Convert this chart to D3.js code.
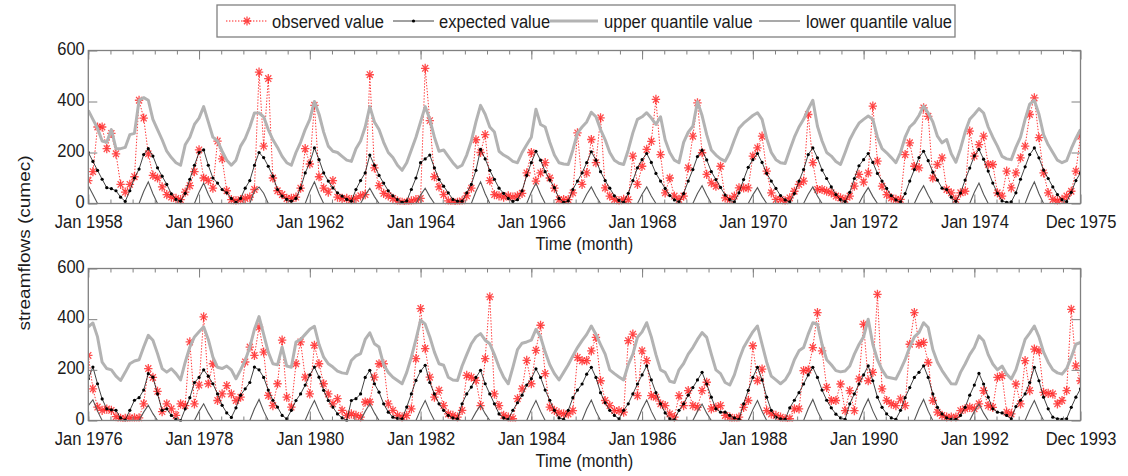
<!DOCTYPE html>
<html>
<head>
<meta charset="utf-8">
<script src="https://cdn.jsdelivr.net/npm/d3@7"></script>
<style>
  body { margin: 0; background: #fff; }
  svg { display: block; }
  text { font-family: "Liberation Sans", Arial, Helvetica, sans-serif; fill: #1a1a1a; }
</style>
</head>
<body>
<svg id="chart" width="1128" height="476"></svg>
<script>
// ---- Monthly streamflow series (cumec), Jan 1958 - Dec 1975 ----
const topTickMonths = [0, 24, 48, 72, 96, 120, 144, 168, 192, 215];
const topTickLabels = ["Jan 1958", "Jan 1960", "Jan 1962", "Jan 1964", "Jan 1966",
                       "Jan 1968", "Jan 1970", "Jan 1972", "Jan 1974", "Dec 1975"];

const topObserved = [
  90,125,300,300,215,275,195,75,45,75,105,405,
  335,195,110,100,65,35,25,20,15,45,70,125,
  210,100,90,60,245,175,50,15,10,15,20,25,
  55,515,225,490,100,50,35,20,20,25,60,215,
  155,385,105,60,45,90,25,20,20,15,20,30,
  35,505,140,70,40,30,20,10,5,5,10,15,
  20,530,325,105,65,35,10,5,5,10,30,60,
  250,200,270,90,35,30,25,30,25,30,40,120,
  200,88,120,160,100,60,15,15,15,42,277,75,
  120,251,160,336,61,29,16,10,16,15,186,75,
  146,212,244,408,192,42,100,29,16,29,140,264,
  395,199,114,81,68,146,22,16,29,61,61,61,
  186,218,264,127,42,16,16,10,22,48,75,88,
  349,160,55,55,48,42,29,22,16,29,68,114,
  84,120,382,166,68,35,22,16,16,192,238,146,
  140,375,342,100,153,179,55,42,16,42,48,284,
  186,231,264,153,153,42,29,127,61,120,179,225,
  349,414,258,120,42,16,10,16,29,48,127,264
];

const topExpected = [
  200,165,130,95,62,58,50,25,8,50,100,135,
  192,215,186,140,107,75,38,16,9,40,95,150,
  200,210,150,100,80,55,42,20,5,20,60,90,
  150,200,180,146,107,55,29,16,9,20,60,120,
  160,218,172,120,88,61,42,29,16,9,55,90,
  120,190,150,110,80,50,30,15,5,10,55,100,
  160,175,190,140,94,68,42,16,9,9,42,75,
  130,212,175,130,95,60,40,20,8,15,50,110,
  160,205,170,125,92,62,20,5,10,55,88,120,
  160,203,170,125,90,60,30,12,5,40,90,140,
  172,196,161,118,88,59,31,14,6,39,88,133,
  184,209,171,125,94,63,33,15,6,42,94,142,
  172,196,161,118,88,59,31,14,6,39,88,133,
  192,218,179,131,98,65,35,15,7,44,98,148,
  172,196,161,118,88,59,31,14,6,39,88,133,
  180,205,168,123,92,60,55,25,8,41,92,139,
  187,212,174,127,80,40,10,5,6,42,95,144,
  192,218,179,131,98,65,35,15,7,44,90,120
];

const topUpper = [
  365,330,295,245,240,290,215,215,220,270,275,405,
  415,405,330,290,250,205,180,160,150,230,260,310,
  335,380,320,260,245,205,170,150,170,225,255,300,
  355,355,340,290,250,220,185,160,150,200,240,290,
  330,400,350,280,225,205,200,185,170,165,215,245,
  300,380,320,290,240,200,180,150,130,160,210,260,
  320,380,330,260,205,210,185,160,140,150,190,245,
  320,385,350,300,280,205,190,180,165,160,200,230,
  260,370,310,300,240,190,160,155,153,210,277,300,
  320,358,340,290,250,200,170,158,153,210,277,330,
  340,356,335,310,340,250,200,170,160,240,280,303,
  399,345,270,210,190,175,166,200,250,295,315,330,
  345,356,330,255,200,172,160,157,210,260,300,330,
  370,405,303,245,200,186,165,153,200,250,285,315,
  330,343,330,260,215,199,180,160,200,260,300,317,
  345,382,355,320,264,238,251,195,162,215,280,330,
  350,372,355,300,260,225,185,175,172,220,260,330,
  390,405,350,270,230,200,170,160,168,215,255,290
];

const topLower = [
  70,35,0,0,0,0,0,0,0,0,0,0,
  47,85,38,0,0,0,0,0,0,0,0,0,
  44,80,36,0,0,0,0,0,0,0,0,0,
  50,65,40,0,0,0,0,0,0,0,0,0,
  47,85,38,0,0,0,0,0,0,0,0,0,
  33,60,27,0,0,0,0,0,0,0,0,0,
  33,60,27,0,0,0,0,0,0,0,0,0,
  47,85,38,0,0,0,0,0,0,0,0,0,
  44,80,36,0,0,0,0,0,0,0,0,0,
  36,65,29,0,0,0,0,0,0,0,0,0,
  36,65,29,0,0,0,0,0,0,0,0,0,
  39,70,32,0,0,0,0,0,0,0,0,0,
  34,62,28,0,0,0,0,0,0,0,0,0,
  36,65,29,0,0,0,0,0,0,0,0,0,
  34,62,28,0,0,0,0,0,0,0,0,0,
  39,70,32,0,0,0,0,0,0,0,0,0,
  44,80,36,0,0,0,0,0,0,0,0,0,
  47,85,38,0,0,0,0,0,0,0,0,0
];

// ---- Monthly streamflow series (cumec), Jan 1976 - Dec 1993 ----
const bottomTickMonths = [0, 24, 48, 72, 96, 120, 144, 168, 192, 215];
const bottomTickLabels = ["Jan 1976", "Jan 1978", "Jan 1980", "Jan 1982", "Jan 1984",
                          "Jan 1986", "Jan 1988", "Jan 1990", "Jan 1992", "Dec 1993"];

const bottomObserved = [
  257,125,53,40,45,40,15,8,8,10,10,10,
  66,205,170,115,35,66,46,20,66,59,310,66,
  140,409,145,224,79,105,138,105,79,92,231,290,
  257,369,270,99,59,145,317,92,53,224,310,171,
  105,297,224,145,105,66,86,40,20,26,20,13,
  73,73,171,224,224,66,40,20,13,20,46,244,
  442,284,171,92,119,59,26,20,13,40,178,171,
  158,59,244,488,105,59,20,13,7,86,125,237,
  145,277,376,185,53,40,30,26,26,39,249,236,
  236,275,328,157,79,59,39,39,33,315,341,98,
  275,236,98,92,66,59,26,13,98,59,118,59,
  52,118,151,46,52,59,20,13,7,13,52,79,
  295,157,203,39,26,20,13,7,7,46,46,197,
  199,288,426,275,131,79,79,144,39,118,39,164,
  380,157,190,498,125,79,66,59,85,59,301,426,
  301,308,229,79,33,20,13,13,13,39,46,52,
  46,66,118,59,52,170,177,33,26,144,66,236,
  118,282,275,111,107,105,66,79,118,439,216,157
];

const bottomExpected = [
  165,211,145,85,46,42,40,10,2,40,80,90,
  120,185,171,105,40,46,20,5,0,46,90,150,
  170,200,175,145,105,60,30,12,50,100,125,150,
  211,200,170,120,80,53,20,7,40,79,105,140,
  180,211,171,119,79,53,26,10,0,79,86,105,
  170,198,145,112,66,33,13,8,7,53,105,158,
  195,218,150,105,66,40,20,10,7,66,105,132,
  170,198,145,105,66,26,10,5,40,70,100,140,
  165,204,170,120,80,40,10,5,40,90,120,144,
  183,210,170,110,70,40,20,7,40,66,105,144,
  180,216,160,110,66,30,7,3,40,66,100,130,
  160,190,144,92,46,33,33,20,10,5,66,119,
  170,210,160,92,40,13,7,5,50,80,110,144,
  180,210,170,120,80,50,25,10,5,66,105,144,
  180,216,157,92,52,26,10,5,40,90,130,170,
  190,216,170,105,52,26,10,5,5,20,52,100,
  140,186,144,92,46,33,30,20,7,55,80,105,
  150,210,157,92,46,13,7,5,7,52,92,125
];

const bottomUpper = [
  370,385,330,230,205,200,175,158,190,224,235,240,
  290,336,317,264,205,191,204,185,160,230,290,330,
  350,370,320,250,210,205,215,200,165,200,237,290,
  360,410,340,270,224,220,290,215,210,310,320,340,
  360,372,300,250,224,211,195,188,185,237,255,264,
  320,346,303,290,220,190,171,158,145,190,250,320,
  396,380,330,270,224,218,171,160,158,215,260,303,
  330,343,317,303,260,211,171,145,210,280,305,310,
  317,360,330,270,220,185,160,190,220,255,288,315,
  340,373,340,300,262,200,185,172,160,220,262,328,
  350,386,330,260,200,190,155,150,200,225,262,288,
  320,347,328,262,200,185,150,140,180,240,288,320,
  350,373,301,230,175,160,145,160,190,240,275,288,
  341,386,380,300,240,220,197,192,195,215,262,300,
  330,400,301,240,200,172,168,164,200,240,290,330,
  347,386,367,280,230,197,170,145,144,190,223,260,
  288,334,315,260,223,200,215,183,164,200,260,320,
  345,373,330,270,230,200,188,183,205,250,301,308
];

const bottomLower = [
  59,82,37,0,0,0,0,0,0,0,0,0,
  33,60,27,0,0,0,0,0,0,0,0,0,
  36,66,30,0,0,0,0,0,0,0,0,0,
  46,83,37,0,0,0,0,0,0,0,0,0,
  43,79,36,0,0,0,0,0,0,0,0,0,
  36,66,30,0,0,0,0,0,0,0,0,0,
  43,79,36,0,0,0,0,0,0,0,0,0,
  33,60,27,0,0,0,0,0,0,0,0,0,
  43,79,36,0,0,0,0,0,0,0,0,0,
  45,81,36,0,0,0,0,0,0,0,0,0,
  45,81,36,0,0,0,0,0,0,0,0,0,
  36,65,29,0,0,0,0,0,0,0,0,0,
  43,79,36,0,0,0,0,0,0,0,0,0,
  46,83,37,0,0,0,0,0,0,0,0,0,
  47,85,38,0,0,0,0,0,0,0,0,0,
  46,83,37,0,0,0,0,0,0,0,0,0,
  36,65,29,0,0,0,0,0,0,0,0,0,
  43,79,36,0,0,0,0,0,0,0,0,0
];

const yTickValues = [0, 200, 400, 600];
const legendLabels = ["observed value", "expected value", "upper quantile value", "lower quantile value"];
const yAxisTitle = "streamflows (cumec)";
const xAxisTitle = "Time (month)";

// ---- drawing ----
const svg = d3.select("#chart");
const FONT = 19;        // type size
const SX = 0.87;        // horizontal compression of the typeface
const AXIS_COLOR = "#808080";
const OBS_COLOR = "#ff2020";
const UPPER_COLOR = "#b3b3b3";
const LOWER_COLOR = "#555555";

const plotLeft = 88.3, plotRight = 1080.5;
const x = d3.scaleLinear().domain([0, 215]).range([plotLeft, plotRight]);
const minorTicks = d3.range(0, 215, 4.8);

const STAR = "M-4.2,0H4.2M0,-4.6V4.6M-3,-3.3L3,3.3M-3,3.3L3,-3.3";

const panels = [
  { top: 50.5, bottom: 203.5, obs: topObserved, exp: topExpected, up: topUpper, low: topLower,
    ticks: topTickMonths, labels: topTickLabels },
  { top: 268.5, bottom: 420.5, obs: bottomObserved, exp: bottomExpected, up: bottomUpper, low: bottomLower,
    ticks: bottomTickMonths, labels: bottomTickLabels }
];

function styleAxis(g) {
  g.attr("color", AXIS_COLOR);
  g.select(".domain").remove();
  g.selectAll(".tick line").attr("stroke-width", 1);
}

panels.forEach((p, k) => {
  const y = d3.scaleLinear().domain([0, 600]).range([p.bottom, p.top]);
  const g = svg.append("g");
  const clipId = "plotclip" + k;
  svg.append("clipPath").attr("id", clipId)
    .append("rect")
    .attr("x", plotLeft).attr("y", p.top - 1)
    .attr("width", plotRight - plotLeft).attr("height", p.bottom - p.top + 2);

  const plot = g.append("g").attr("clip-path", `url(#${clipId})`);
  const line = d3.line().x((d, i) => x(i)).y(d => y(d));

  // observed: dotted red with asterisks
  plot.append("path").datum(p.obs)
    .attr("d", line).attr("fill", "none")
    .attr("stroke", OBS_COLOR).attr("stroke-width", 1)
    .attr("stroke-dasharray", "1.4,1.6").attr("opacity", 0.9);
  plot.append("g").selectAll("path").data(p.obs).join("path")
    .attr("transform", (d, i) => `translate(${x(i)},${y(d)})`)
    .attr("d", STAR).attr("fill", "none")
    .attr("stroke", OBS_COLOR).attr("stroke-width", 1.3).attr("opacity", 0.8);

  // expected: thin black with dots
  plot.append("path").datum(p.exp)
    .attr("d", line).attr("fill", "none")
    .attr("stroke", "#111").attr("stroke-width", 0.8);
  plot.append("g").selectAll("circle").data(p.exp).join("circle")
    .attr("cx", (d, i) => x(i)).attr("cy", d => y(d)).attr("r", 1.6)
    .attr("fill", "#000");

  // upper quantile: thick light grey
  plot.append("path").datum(p.up)
    .attr("d", line).attr("fill", "none")
    .attr("stroke", UPPER_COLOR).attr("stroke-width", 3)
    .attr("stroke-linejoin", "round");

  // lower quantile: thin dark grey
  plot.append("path").datum(p.low)
    .attr("d", line).attr("fill", "none")
    .attr("stroke", LOWER_COLOR).attr("stroke-width", 1.1);

  // frame
  g.append("rect")
    .attr("x", plotLeft).attr("y", p.top)
    .attr("width", plotRight - plotLeft).attr("height", p.bottom - p.top)
    .attr("fill", "none").attr("stroke", AXIS_COLOR).attr("stroke-width", 1.3);

  // minor ticks, bottom and top
  g.append("g").attr("transform", `translate(0,${p.bottom})`)
    .call(d3.axisBottom(x).tickValues(minorTicks).tickSizeInner(-4).tickSizeOuter(0).tickFormat(""))
    .call(styleAxis);
  g.append("g").attr("transform", `translate(0,${p.top})`)
    .call(d3.axisTop(x).tickValues(minorTicks).tickSizeInner(-4).tickSizeOuter(0).tickFormat(""))
    .call(styleAxis);

  // labelled ticks
  const xb = g.append("g").attr("transform", `translate(0,${p.bottom})`)
    .call(d3.axisBottom(x).tickValues(p.ticks).tickSizeInner(-9).tickSizeOuter(0)
      .tickFormat((d, i) => p.labels[i]))
    .call(styleAxis);
  xb.selectAll("text")
    .attr("y", 25).attr("dy", null)
    .attr("transform", `scale(${SX},1)`)
    .style("font-size", FONT + "px").style("fill", "#1a1a1a");
  g.append("g").attr("transform", `translate(0,${p.top})`)
    .call(d3.axisTop(x).tickValues(p.ticks).tickSizeInner(-9).tickSizeOuter(0).tickFormat(""))
    .call(styleAxis);

  // y axes
  const yl = g.append("g").attr("transform", `translate(${plotLeft},0)`)
    .call(d3.axisLeft(y).tickValues(yTickValues).tickSizeInner(-9).tickSizeOuter(0).tickPadding(3.5))
    .call(styleAxis);
  yl.selectAll("text")
    .attr("transform", `scale(${SX},1)`)
    .attr("x", -3.5 / SX)
    .attr("dy", "0.2em")
    .style("font-size", FONT + "px").style("fill", "#1a1a1a");
  g.append("g").attr("transform", `translate(${plotRight},0)`)
    .call(d3.axisRight(y).tickValues(yTickValues).tickSizeInner(-9).tickSizeOuter(0).tickFormat(""))
    .call(styleAxis);

  // x-axis title
  g.append("text")
    .attr("transform", `translate(${(plotLeft + plotRight) / 2},${p.bottom + 46}) scale(${SX},1)`)
    .attr("text-anchor", "middle")
    .style("font-size", FONT + "px")
    .text(xAxisTitle);
});

// shared y-axis title
svg.append("text")
  .attr("transform", `translate(30,243) scale(${SX},1) rotate(-90)`)
  .attr("text-anchor", "middle")
  .style("font-size", FONT + "px")
  .text(yAxisTitle);

// ---- legend ----
const legend = svg.append("g");
legend.append("rect")
  .attr("x", 217).attr("y", 5).attr("width", 738).attr("height", 32)
  .attr("fill", "#fff").attr("stroke", AXIS_COLOR).attr("stroke-width", 1.3);

const legendY = 21;
const legendItems = [
  { x0: 226, x1: 268, tx: 272 },
  { x0: 393, x1: 434, tx: 439 },
  { x0: 550, x1: 598, tx: 604 },
  { x0: 759, x1: 800, tx: 806 }
];
legendItems.forEach((it, i) => {
  const ln = legend.append("line")
    .attr("x1", it.x0).attr("x2", it.x1).attr("y1", legendY).attr("y2", legendY);
  if (i === 0) {
    ln.attr("stroke", OBS_COLOR).attr("stroke-width", 1).attr("stroke-dasharray", "1.4,1.6");
    legend.append("path").attr("d", STAR)
      .attr("transform", `translate(${(it.x0 + it.x1) / 2},${legendY})`)
      .attr("fill", "none").attr("stroke", OBS_COLOR).attr("stroke-width", 1.3).attr("opacity", 0.8);
  } else if (i === 1) {
    ln.attr("stroke", "#111").attr("stroke-width", 0.8);
    legend.append("circle").attr("cx", (it.x0 + it.x1) / 2).attr("cy", legendY).attr("r", 1.6).attr("fill", "#000");
  } else if (i === 2) {
    ln.attr("stroke", UPPER_COLOR).attr("stroke-width", 3);
  } else {
    ln.attr("stroke", LOWER_COLOR).attr("stroke-width", 1.1);
  }
  legend.append("text")
    .attr("transform", `translate(${it.tx},${legendY + 6.8}) scale(${SX},1)`)
    .style("font-size", FONT + "px")
    .text(legendLabels[i]);
});
</script>
</body>
</html>
